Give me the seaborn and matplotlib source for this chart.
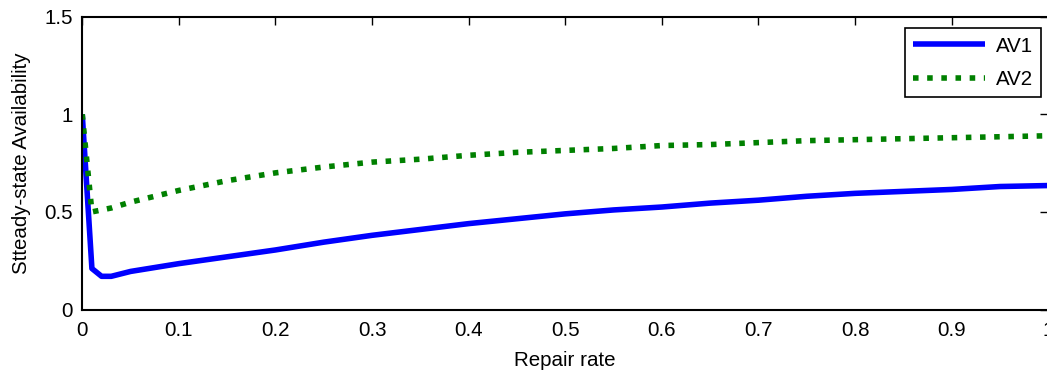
import matplotlib
matplotlib.use("Agg")
import matplotlib.pyplot as plt
import seaborn as sns
import pandas as pd

# Data
repair_rate = [0, 0.01, 0.02, 0.03, 0.05, 0.1, 0.15, 0.2, 0.25, 0.3, 0.35, 0.4, 0.45,
               0.5, 0.55, 0.6, 0.65, 0.7, 0.75, 0.8, 0.85, 0.9, 0.95, 1.0]
av1 = [1.0, 0.21, 0.17, 0.17, 0.195, 0.235, 0.27, 0.305, 0.345, 0.38, 0.41, 0.44, 0.465,
       0.49, 0.51, 0.525, 0.545, 0.56, 0.58, 0.595, 0.605, 0.615, 0.63, 0.635]
av2 = [1.0, 0.50, 0.51, 0.52, 0.55, 0.61, 0.66, 0.70, 0.73, 0.755, 0.77, 0.79, 0.805,
       0.815, 0.825, 0.84, 0.845, 0.855, 0.865, 0.87, 0.875, 0.88, 0.885, 0.89]
series_names = ["AV1", "AV2"]
x_ticks = [0, 0.1, 0.2, 0.3, 0.4, 0.5, 0.6, 0.7, 0.8, 0.9, 1]
x_tick_labels = ["0", "0.1", "0.2", "0.3", "0.4", "0.5", "0.6", "0.7", "0.8", "0.9", "1"]
y_ticks = [0, 0.5, 1, 1.5]
y_tick_labels = ["0", "0.5", "1", "1.5"]

sns.set_style("white")
plt.rcParams["font.family"] = ["Liberation Sans", "DejaVu Sans"]
plt.rcParams["text.color"] = "black"
plt.rcParams["axes.labelcolor"] = "black"

df = pd.DataFrame({
    "x": repair_rate * 2,
    "y": av1 + av2,
    "series": [series_names[0]] * len(av1) + [series_names[1]] * len(av2),
})

fig = plt.figure(figsize=(10.47, 3.74), dpi=100)
ax = fig.add_axes([82.25 / 1047, 64.5 / 374, 966 / 1047, 292.8 / 374])

sns.lineplot(data=df[df.series == "AV1"], x="x", y="y", ax=ax, color=(0, 0, 1),
             linewidth=4.0, label="AV1", solid_capstyle="butt")
sns.lineplot(data=df[df.series == "AV2"], x="x", y="y", ax=ax, color=(0, 0.5, 0),
             linewidth=4.0, label="AV2", linestyle=(0, (1, 1.55)),
             dash_capstyle="butt")

FS = 14.8
ax.set_xlim(0, 1)
ax.set_ylim(0, 1.5)
ax.set_xticks(x_ticks)
ax.set_xticklabels(x_tick_labels)
ax.set_yticks(y_ticks)
ax.set_yticklabels(y_tick_labels)
ax.set_xlabel("Repair rate", fontsize=FS, labelpad=8, color="black")
ax.set_ylabel("Stteady-state Availability", fontsize=FS, labelpad=9, color="black")

ax.tick_params(axis="both", which="both", direction="in", length=6, width=1,
               colors="black", labelsize=FS, top=True, right=True)
ax.tick_params(axis="x", pad=8)
ax.tick_params(axis="y", pad=7)
for sp in ax.spines.values():
    sp.set_visible(True)
    sp.set_color("black")
    sp.set_linewidth(1.5)

leg = ax.legend(loc="upper right", bbox_to_anchor=(0.9925, 0.960), borderaxespad=0,
                fontsize=FS, frameon=True, fancybox=False,
                framealpha=1, edgecolor="black", handlelength=3.5,
                labelspacing=0.7, handletextpad=0.5, borderpad=0.4)
leg.get_frame().set_linewidth(1.2)
for t in leg.get_texts():
    t.set_color("black")

fig.savefig("out.png", dpi=100)
